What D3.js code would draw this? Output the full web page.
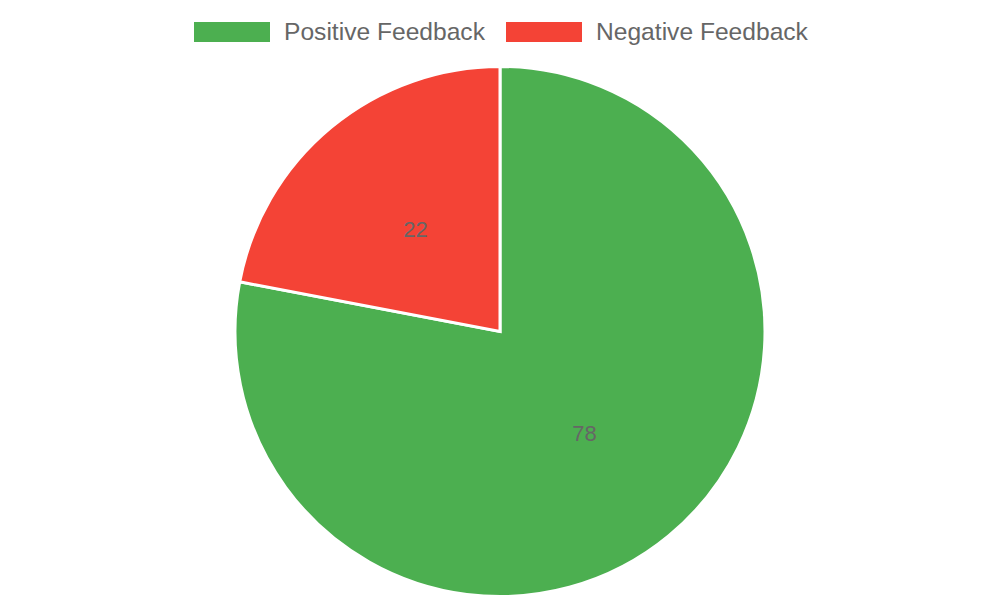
<!DOCTYPE html>
<html>
<head>
<meta charset="utf-8">
<script src="https://cdn.jsdelivr.net/npm/d3@7"></script>
<style>
  body { margin: 0; background: #fff; }
  svg { display: block; font-family: "Liberation Sans", Arial, sans-serif; }
</style>
</head>
<body>
<div id="chart"></div>
<script>
const labels = ["Positive Feedback", "Negative Feedback"];
const values = [78, 22];
const colors = ["#4CAF50", "#F44336"];

const width = 1000, height = 600;
const cx = 500, cy = 331.5, radius = 265;

const svg = d3.select("#chart").append("svg")
    .attr("width", width)
    .attr("height", height);

// Legend
const legend = svg.append("g");
const legendX = [194, 506];
labels.forEach((name, i) => {
    const g = legend.append("g").attr("transform", `translate(${legendX[i]},22)`);
    g.append("rect")
        .attr("width", 76)
        .attr("height", 20)
        .attr("fill", colors[i]);
    g.append("text")
        .attr("x", 90)
        .attr("y", 18)
        .style("font-size", "24.6px")
        .style("fill", "#666")
        .text(name);
});

// Pie
const pie = d3.pie().sort(null).value(d => d);
const arcs = pie(values);
const arc = d3.arc().innerRadius(0).outerRadius(radius);
const labelArc = d3.arc().innerRadius(radius / 2).outerRadius(radius / 2);

const g = svg.append("g").attr("transform", `translate(${cx},${cy})`);

g.selectAll("path")
    .data(arcs)
    .join("path")
    .attr("d", arc)
    .attr("fill", (d, i) => colors[i])
    .attr("stroke", "#fff")
    .attr("stroke-width", 3)
    .attr("stroke-linejoin", "miter");

g.selectAll(".slice-label")
    .data(arcs)
    .join("text")
    .attr("class", "slice-label")
    .attr("transform", d => `translate(${labelArc.centroid(d)})`)
    .attr("text-anchor", "middle")
    .attr("dy", "0.35em")
    .style("font-size", "22px")
    .style("fill", "#666")
    .text(d => d.data);
</script>
</body>
</html>
